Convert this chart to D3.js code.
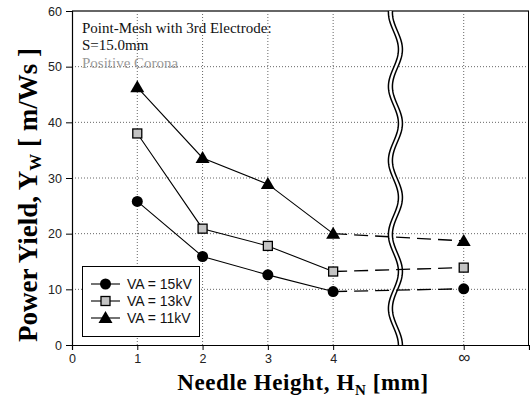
<!DOCTYPE html>
<html>
<head>
<meta charset="utf-8">
<script src="https://cdn.jsdelivr.net/npm/d3@7"></script>
<style>
  body { margin: 0; background: #fff; }
  svg { display: block; }
</style>
</head>
<body>
<svg id="chart" width="530" height="405"></svg>
<script>
// needle heights, infinity sits at position 6 on the axis
let heights = [1, 2, 3, 4, 6]
let xTicks = [0, 1, 2, 3, 4, 6]
let xTickLabels = ["0", "1", "2", "3", "4", "\u221e"]
let yTicks = [0, 10, 20, 30, 40, 50, 60]
let xGrid = [1, 2, 3, 4, 6]
let yGrid = [10, 20, 30, 40, 50]
let breakAt = 5

let seriesNames = ["VA = 15kV", "VA = 13kV", "VA = 11kV"]
let va15 = [25.8, 15.9, 12.6, 9.6, 10.1]
let va13 = [38.0, 20.9, 17.8, 13.2, 13.9]
let va11 = [46.3, 33.6, 28.9, 20.0, 18.7]
let markers = ["circle", "square", "triangle"]

let width = 530,
    height = 405
let margin = { left: 72, right: 1, top: 11, bottom: 60 }

let svg = d3.select("#chart")

let xScale = d3.scaleLinear()
    .domain([0, 7])
    .range([margin.left, width - margin.right])
let yScale = d3.scaleLinear()
    .domain([0, 60])
    .range([height - margin.bottom, margin.top])

// grid
svg.append("g")
    .selectAll("line")
    .data(yGrid)
    .enter()
    .append("line")
    .attr("x1", xScale(0))
    .attr("x2", xScale(7))
    .attr("y1", d => yScale(d))
    .attr("y2", d => yScale(d))
    .attr("stroke", "#666")
    .attr("stroke-dasharray", "1,2")

svg.append("g")
    .selectAll("line")
    .data(xGrid)
    .enter()
    .append("line")
    .attr("x1", d => xScale(d))
    .attr("x2", d => xScale(d))
    .attr("y1", yScale(0))
    .attr("y2", yScale(60))
    .attr("stroke", "#666")
    .attr("stroke-dasharray", "1,2")

// frame top + right
svg.append("line")
    .attr("x1", xScale(0)).attr("x2", xScale(7))
    .attr("y1", yScale(60)).attr("y2", yScale(60))
    .attr("stroke", "#666").attr("stroke-width", 2)
svg.append("line")
    .attr("x1", xScale(7) - 0.5).attr("x2", xScale(7) - 0.5)
    .attr("y1", yScale(60)).attr("y2", yScale(0))
    .attr("stroke", "#000")

// axes
let yAxis = svg.append("g")
    .attr("transform", "translate(" + xScale(0) + ",0)")
    .call(d3.axisLeft(yScale).tickValues(yTicks).tickSize(6).tickPadding(4))
let xAxis = svg.append("g")
    .attr("transform", "translate(0," + yScale(0) + ")")
    .call(d3.axisBottom(xScale).tickValues(xTicks).tickSize(5).tickPadding(4)
        .tickFormat((d, i) => xTickLabels[i]))

svg.selectAll(".domain").attr("stroke", "#000").attr("stroke-width", 1.2)
svg.selectAll(".tick line").attr("stroke", "#000")
svg.selectAll(".tick text")
    .attr("font-family", "Liberation Sans, Arial, sans-serif")
    .attr("font-size", "12.5px")
    .attr("fill", "#222")
xAxis.selectAll(".tick text")
    .filter((d, i) => i == 5)
    .attr("font-size", "17px")
    .attr("dy", "0.5em")

// axis break (wavy double line)
let breakY = d3.range(yScale(60), yScale(0) + 1, 1)
let wave = y => xScale(breakAt) - 3 + 5 * Math.sin(2 * Math.PI * (y - 105) / 74)
let leftEdge = breakY.map(y => [wave(y) - 2, y])
let rightEdge = breakY.map(y => [wave(y) + 2, y])
svg.append("path")
    .attr("d", d3.line()(leftEdge.concat(rightEdge.slice().reverse())) + "Z")
    .attr("fill", "#fff")
    .attr("stroke", "none")
svg.append("path")
    .attr("d", d3.line()(leftEdge))
    .attr("fill", "none").attr("stroke", "#000").attr("stroke-width", 1.5)
svg.append("path")
    .attr("d", d3.line()(rightEdge))
    .attr("fill", "none").attr("stroke", "#000").attr("stroke-width", 1.5)

// series
let allSeries = [va15, va13, va11]
let valueline = d3.line()
    .x((d, i) => xScale(d[0]))
    .y(d => yScale(d[1]))

allSeries.forEach(function(vals) {
    let pts = heights.map((h, i) => [h, vals[i]])
    svg.append("path")
        .attr("d", valueline(pts.slice(0, 4)))
        .attr("fill", "none")
        .attr("stroke", "#000")
        .attr("stroke-width", 1.1)
    svg.append("path")
        .attr("d", valueline(pts.slice(3)))
        .attr("fill", "none")
        .attr("stroke", "#000")
        .attr("stroke-width", 1.3)
        .attr("stroke-dasharray", "14,7")
})

function drawMarker(g, type, cx, cy) {
    if (type == "circle") {
        g.append("circle")
            .attr("cx", cx).attr("cy", cy).attr("r", 5.5)
            .attr("fill", "#000")
    } else if (type == "square") {
        g.append("rect")
            .attr("x", cx - 4.5).attr("y", cy - 4.5)
            .attr("width", 9).attr("height", 9)
            .attr("fill", "#c4c4c4")
            .attr("stroke", "#000").attr("stroke-width", 1.3)
    } else {
        let s = 7
        g.append("path")
            .attr("d", "M" + cx + "," + (cy - s) + "L" + (cx + s) + "," + (cy + 5) + "L" + (cx - s) + "," + (cy + 5) + "Z")
            .attr("fill", "#000")
    }
}

let markG = svg.append("g")
allSeries.forEach(function(vals, k) {
    heights.forEach(function(h, i) {
        drawMarker(markG, markers[k], xScale(h), yScale(vals[i]))
    })
})

// annotation
let note = svg.append("g")
    .attr("font-family", "Liberation Serif, Times New Roman, serif")
    .attr("font-size", "15px")
note.append("text").attr("x", 82).attr("y", 33)
    .attr("fill", "#111")
    .text("Point-Mesh with 3rd Electrode:")
note.append("text").attr("x", 82).attr("y", 50)
    .attr("fill", "#111")
    .text("S=15.0mm")
note.append("text").attr("x", 82).attr("y", 68)
    .attr("fill", "#9a9a9a")
    .text("Positive Corona")

// legend
let legend = svg.append("g")
legend.append("rect")
    .attr("x", 82.5).attr("y", 266.5)
    .attr("width", 117).attr("height", 70)
    .attr("fill", "#fff").attr("stroke", "#000").attr("stroke-width", 1)
seriesNames.forEach(function(name, i) {
    let yy = 284 + i * 17
    legend.append("line")
        .attr("x1", 91).attr("x2", 120)
        .attr("y1", yy).attr("y2", yy)
        .attr("stroke", "#000").attr("stroke-width", 1.1)
    drawMarker(legend, markers[i], 105.5, yy)
    legend.append("text")
        .attr("x", 127).attr("y", yy + 5)
        .attr("font-family", "Liberation Sans, Arial, sans-serif")
        .attr("font-size", "14px")
        .attr("fill", "#111")
        .text(name)
})

// axis titles
let ylab = svg.append("text")
    .attr("transform", "translate(37," + 195 + ") rotate(-90)")
    .attr("text-anchor", "middle")
    .attr("font-family", "Liberation Serif, Times New Roman, serif")
    .attr("font-weight", "bold")
    .attr("font-size", "27px")
    .attr("fill", "#000")
ylab.append("tspan").text("Power Yield, Y")
ylab.append("tspan").attr("font-size", "17px").attr("dy", 4).text("W")
ylab.append("tspan").attr("dy", -4).text(" [ m/Ws ]")

let xlab = svg.append("text")
    .attr("x", 303).attr("y", 390)
    .attr("text-anchor", "middle")
    .attr("font-family", "Liberation Serif, Times New Roman, serif")
    .attr("font-weight", "bold")
    .attr("font-size", "23px")
    .attr("letter-spacing", "0.6px")
    .attr("fill", "#000")
xlab.append("tspan").text("Needle Height, H")
xlab.append("tspan").attr("font-size", "15px").attr("dy", 5).text("N")
xlab.append("tspan").attr("dy", -5).text(" [mm]")
</script>
</body>
</html>
